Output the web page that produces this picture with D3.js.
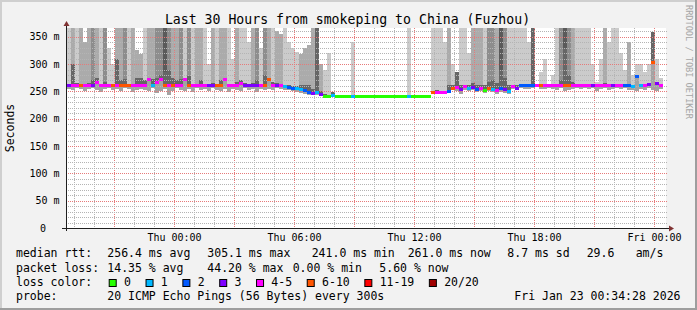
<!DOCTYPE html>
<html>
<head>
<meta charset="utf-8">
<script src="https://cdn.jsdelivr.net/npm/d3@7"></script>
<style>
  body { margin: 0; background: #fff; }
  svg { display: block; }
  text { font-family: "DejaVu Sans Mono", monospace; fill: #000; }
</style>
</head>
<body>
<svg id="chart"></svg>
<script>
// ---- data (one value per 12 minute bucket) ----
const lossLabels = ['0', '1', '2', '3', '4-5', '6-10', '11-19', '20/20'];
const lossColors = ['#26ff00', '#00b8ff', '#0059ff', '#7e00ff', '#ff00ff', '#ff5500', '#ff0000', '#a00000'];
const smokeGrays = ['#cbcbcb', '#ababab', '#8d8d8d', '#5a5a5a'];

const yTicks = [0, 50, 100, 150, 200, 250, 300, 350];
const xTickLabels = ['Thu 00:00', 'Thu 06:00', 'Thu 12:00', 'Thu 18:00', 'Fri 00:00'];

// median rtt (ms)
const median = [
  261, 261, 261, 261, 261, 261, 261, 268, 261, 261,
  261, 261, 261, 261, 261, 261, 261, 261, 261, 261,
  273, 261, 267, 273, 261, 261, 261, 261, 261, 273,
  261, 261, 261, 261, 261, 261, 261, 261, 261, 272,
  261, 261, 261, 266, 261, 261, 261, 261, 261, 261,
  273, 261, 261, 261, 260, 258, 257, 256, 254, 252,
  249, 247, 248, 245, 241, 241, 243, 241, 241, 241,
  241, 242, 241, 241, 241, 241, 241, 241, 241, 241,
  241, 241, 241, 241, 241, 242, 241, 241, 241, 241,
  241, 249, 249, 249, 249, 250, 256, 258, 255, 259,
  256, 258, 254, 257, 253, 257, 255, 252, 256, 254,
  251, 260, 256, 261, 261, 261, 261, 261, 261, 261,
  261, 261, 261, 261, 261, 261, 261, 261, 261, 261,
  261, 261, 261, 261, 261, 261, 261, 261, 261, 261,
  261, 259, 279, 261, 261, 263, 303, 266, 262, null
];

// loss class (index into lossLabels)
const loss = [
  3, 4, 4, 5, 4, 4, 3, 4, 4, 4,
  4, 5, 4, 5, 5, 5, 4, 4, 4, 4,
  4, 1, 4, 4, 5, 4, 5, 4, 4, 4,
  5, 4, 4, 4, 4, 3, 3, 5, 5, 4,
  4, 4, 4, 4, 3, 3, 3, 3, 4, 5,
  5, 4, 3, 4, 1, 2, 2, 1, 1, 2,
  2, 3, 1, 3, 0, 0, 1, 0, 0, 0,
  0, 1, 0, 0, 0, 0, 0, 0, 0, 0,
  0, 0, 0, 0, 0, 1, 0, 0, 0, 0,
  0, 5, 4, 4, 4, 2, 5, 4, 3, 4,
  1, 3, 2, 4, 0, 5, 1, 4, 2, 3,
  1, 4, 3, 2, 2, 2, 2, 4, 5, 4,
  4, 4, 4, 4, 5, 5, 4, 4, 4, 4,
  4, 3, 4, 4, 4, 4, 3, 4, 4, 2,
  2, 1, 2, 1, 4, 3, 5, 3, 4, 0
];

// highest ping of the bucket (ms, 366 = off the top)
const smokeHi = [
  366, 366, 366, 366, 340, 366, 366, 366, 366, 366,
  330, 300, 366, 366, 366, 366, 366, 325, 318, 366,
  366, 366, 366, 366, 366, 366, 366, 366, 366, 366,
  366, 366, 366, 366, 366, 300, 366, 366, 366, 366,
  366, 310, 366, 366, 366, 340, 366, 366, 330, 366,
  366, 366, 360, 355, 366, 340, 330, 322, 318, 330,
  335, 366, 366, 300, 290, 320, 249, 241, 241, 241,
  241, 340, 241, 241, 241, 241, 241, 241, 241, 241,
  241, 241, 241, 241, 241, 366, 241, 241, 241, 241,
  241, 366, 366, 366, 340, 366, 300, 285, 366, 366,
  320, 366, 366, 366, 366, 366, 366, 366, 366, 366,
  366, 366, 366, 366, 366, 340, 366, 262, 285, 310,
  261, 280, 366, 366, 366, 366, 366, 366, 366, 366,
  366, 300, 268, 310, 366, 340, 366, 366, 320, 290,
  340, 280, 300, 300, 285, 300, 358, 310, 275, null
];

// grey tone of the upper smoke (index into smokeGrays)
const smokeTone = [
  0, 1, 0, 1, 1, 1, 2, 1, 0, 2,
  0, 0, 1, 1, 2, 0, 1, 1, 1, 0,
  1, 1, 2, 2, 3, 2, 1, 1, 2, 0,
  2, 0, 1, 1, 0, 0, 1, 0, 1, 1,
  0, 0, 1, 0, 0, 0, 1, 2, 0, 2,
  1, 0, 1, 1, 0, 0, 0, 0, 1, 1,
  1, 1, 3, 1, 0, 0, 3, 0, 0, 0,
  0, 0, 0, 0, 0, 0, 0, 0, 0, 0,
  0, 0, 0, 0, 0, 0, 0, 0, 0, 0,
  0, 0, 0, 0, 0, 1, 0, 1, 0, 0,
  0, 1, 1, 1, 0, 2, 2, 1, 3, 2,
  0, 0, 0, 0, 0, 0, 3, 0, 0, 0,
  0, 0, 0, 2, 3, 2, 1, 0, 0, 0,
  0, 0, 0, 0, 1, 0, 0, 0, 0, 0,
  1, 0, 0, 0, 0, 0, 3, 0, 0, 0
];

// top of the dense (dark) part of the smoke (ms)
const smokeCore = [
  262, 300, 265, 262, 262, 265, 270, 275, 262, 268,
  262, 262, 310, 270, 272, 264, 262, 275, 275, 270,
  275, 272, 275, 280, 285, 290, 275, 270, 272, 275,
  278, 264, 262, 270, 264, 262, 266, 262, 270, 275,
  262, 262, 268, 270, 265, 262, 266, 270, 262, 280,
  275, 268, 265, 264, 262, 262, 260, 260, 262, 262,
  262, 255, 366, 250, 245, 241, 249, 241, 241, 241,
  241, 241, 241, 241, 241, 241, 241, 241, 241, 241,
  241, 241, 241, 241, 241, 241, 241, 241, 241, 241,
  241, 250, 252, 250, 251, 262, 262, 285, 262, 262,
  262, 265, 262, 262, 262, 268, 270, 265, 290, 275,
  262, 262, 262, 262, 262, 262, 366, 262, 262, 262,
  262, 262, 262, 270, 330, 280, 268, 262, 262, 262,
  262, 262, 262, 262, 266, 262, 262, 262, 262, 262,
  262, 262, 279, 262, 262, 262, 358, 262, 262, null
];

// lowest ping of the bucket (ms)
const smokeLo = [
  255, 252, 256, 254, 250, 255, 257, 253, 248, 254,
  256, 253, 255, 251, 256, 254, 249, 253, 255, 252,
  250, 256, 247, 251, 254, 244, 250, 256, 253, 251,
  255, 249, 256, 252, 254, 250, 256, 253, 251, 255,
  248, 255, 252, 250, 256, 253, 254, 249, 255, 252,
  255, 253, 256, 254, 253, 252, 250, 249, 247, 246,
  244, 243, 243, 241, 240, 240, 241, 241, 241, 241,
  241, 241, 241, 241, 241, 241, 241, 241, 241, 241,
  241, 241, 241, 241, 241, 241, 241, 241, 241, 241,
  241, 247, 246, 247, 246, 248, 252, 250, 246, 252,
  250, 253, 248, 251, 247, 250, 249, 245, 249, 247,
  246, 255, 253, 256, 255, 254, 256, 258, 254, 255,
  256, 255, 253, 256, 250, 252, 254, 256, 255, 257,
  255, 256, 250, 254, 256, 253, 255, 257, 254, 256,
  253, 252, 250, 254, 252, 256, 253, 250, 255, null
];

const rttStats = ['256.4 ms avg', '305.1 ms max', '241.0 ms min', '261.0 ms now', '8.7 ms sd', '29.6', 'am/s'];
const lossStats = ['14.35 % avg', '44.20 % max', '0.00 % min', '5.60 % now'];
const probeText = '20 ICMP Echo Pings (56 Bytes) every 300s';
const stampText = 'Fri Jan 23 00:34:28 2026';
const titleText = 'Last 30 Hours from smokeping to China (Fuzhou)';

// ---- layout ----
const [W, H] = [697, 310];
const plot = { left: 66, right: 666, top: 28, bottom: 228 };
const rttX = [107.3, 207.3, 311.7, 407.7, 507.3, 586.7, 635.7];
const lossX = [107.3, 207.3, 292.7, 379.3];
const rowY = [257.3, 271.6, 285.8, 300.2];
const minorCol = '#b4b4b4';
const majorCol = '#e67a7a';

const svg = d3.select('#chart').attr('width', W).attr('height', H);

// dotted grid patterns (1 px on, 1 px off)
const defs = svg.append('defs');
[['minor', minorCol], ['major', majorCol]].forEach(([name, col]) => {
  defs.append('pattern').attr('id', 'h-' + name)
    .attr('patternUnits', 'userSpaceOnUse').attr('width', 2).attr('height', 1)
    .append('rect').attr('width', 1).attr('height', 1).attr('fill', col);
  defs.append('pattern').attr('id', 'v-' + name)
    .attr('patternUnits', 'userSpaceOnUse').attr('width', 1).attr('height', 2)
    .append('rect').attr('width', 1).attr('height', 1).attr('fill', col);
});

// background + 3d border
svg.append('rect').attr('width', W).attr('height', H).attr('fill', '#f2f2f2');
svg.append('rect').attr('x', 0).attr('y', 0).attr('width', W).attr('height', 2).attr('fill', '#cfcfcf');
svg.append('rect').attr('x', 0).attr('y', 0).attr('width', 2).attr('height', H).attr('fill', '#cfcfcf');
svg.append('rect').attr('x', 0).attr('y', H - 2).attr('width', W).attr('height', 2).attr('fill', '#9e9e9e');
svg.append('rect').attr('x', W - 2).attr('y', 0).attr('width', 2).attr('height', H).attr('fill', '#9e9e9e');

// canvas
svg.append('rect')
  .attr('x', plot.left).attr('y', plot.top)
  .attr('width', plot.right - plot.left).attr('height', plot.bottom - plot.top)
  .attr('fill', '#fff');

// scales
const end = new Date(2026, 0, 23, 0, 34, 28);
const start = d3.timeHour.offset(end, -30);
const x = d3.scaleTime().domain([start, end]).range([plot.left, plot.right]);
const y = d3.scaleLinear().domain([0, 366]).range([plot.bottom, plot.top]);

const buckets = median.map((m, i) => ({
  t: d3.timeMinute.offset(start, 3 + 12 * i),
  med: m, loss: loss[i], hi: smokeHi[i], tone: smokeTone[i], core: smokeCore[i], lo: smokeLo[i]
})).filter(d => d.med !== null);
const bw = x(d3.timeMinute.offset(start, 12)) - x(start);

const gSmoke = svg.append('g').attr('shape-rendering', 'crispEdges');

// upper smoke
gSmoke.selectAll('rect.hi')
  .data(buckets.filter(d => d.hi > d.med))
  .join('rect').attr('class', 'hi')
  .attr('x', d => x(d.t)).attr('width', bw)
  .attr('y', d => y(d.hi)).attr('height', d => y(d.med) - y(d.hi))
  .attr('fill', d => smokeGrays[d.tone]);

// lower smoke
gSmoke.selectAll('rect.lo')
  .data(buckets.filter(d => d.lo < d.med))
  .join('rect').attr('class', 'lo')
  .attr('x', d => x(d.t)).attr('width', bw)
  .attr('y', d => y(d.med)).attr('height', d => y(d.lo) - y(d.med))
  .attr('fill', '#a3a3a3');

// dense part near median
gSmoke.selectAll('rect.core')
  .data(buckets.filter(d => d.core > d.med + 1))
  .join('rect').attr('class', 'core')
  .attr('x', d => x(d.t)).attr('width', bw)
  .attr('y', d => y(d.core)).attr('height', d => y(d.med) - y(d.core))
  .attr('fill', '#666666');

// grid, drawn over the smoke like rrdtool does
const gGrid = svg.append('g').attr('shape-rendering', 'crispEdges');

const hours = d3.timeHour.range(d3.timeHour.ceil(start), end);
gGrid.selectAll('rect.vx')
  .data(hours)
  .join('rect').attr('class', 'vx')
  .attr('x', d => Math.floor(x(d))).attr('width', 1)
  .attr('y', plot.top).attr('height', plot.bottom - plot.top)
  .attr('fill', d => d.getHours() % 3 === 0 ? 'url(#v-major)' : 'url(#v-minor)');

const yLines = d3.range(10, 366, 10);
gGrid.selectAll('rect.hy')
  .data(yLines)
  .join('rect').attr('class', 'hy')
  .attr('x', plot.left).attr('width', plot.right - plot.left + 2)
  .attr('y', d => Math.round(y(d))).attr('height', 1)
  .attr('fill', d => d % 50 === 0 ? 'url(#h-major)' : 'url(#h-minor)');

// median line coloured by loss
svg.append('g').attr('shape-rendering', 'crispEdges')
  .selectAll('rect')
  .data(buckets)
  .join('rect')
  .attr('x', d => x(d.t)).attr('width', bw)
  .attr('y', d => Math.round(y(d.med)) - 1).attr('height', 2.5)
  .attr('fill', d => lossColors[d.loss]);

// axes
const axisCol = '#1f1f1f';
const arrowCol = '#803333';
svg.append('line')
  .attr('x1', plot.left - 4).attr('x2', plot.right + 4)
  .attr('y1', plot.bottom + 0.5).attr('y2', plot.bottom + 0.5)
  .attr('stroke', axisCol);
svg.append('line')
  .attr('x1', plot.left + 0.5).attr('x2', plot.left + 0.5)
  .attr('y1', plot.bottom + 3).attr('y2', plot.top - 4)
  .attr('stroke', axisCol);
svg.append('path')
  .attr('d', `M${plot.left - 2.5},${plot.top - 2} L${plot.left + 3.5},${plot.top - 2} L${plot.left + 0.5},${plot.top - 7} Z`)
  .attr('fill', arrowCol);
svg.append('path')
  .attr('d', `M${plot.right + 3},${plot.bottom - 2.5} L${plot.right + 3},${plot.bottom + 3.5} L${plot.right + 8},${plot.bottom + 0.5} Z`)
  .attr('fill', arrowCol);

// y labels
svg.selectAll('text.ylab')
  .data(yTicks)
  .join('text').attr('class', 'ylab')
  .attr('x', d => d === 0 ? 46 : 59.5)
  .attr('y', d => y(d))
  .attr('dy', '0.36em')
  .attr('text-anchor', 'end')
  .style('font-size', '10px')
  .text(d => d === 0 ? '0' : d + ' m');

// x labels
const xTicks = d3.timeHour.every(6).range(d3.timeHour.ceil(start), end);
svg.selectAll('text.xlab')
  .data(xTicks)
  .join('text').attr('class', 'xlab')
  .attr('x', d => x(d))
  .attr('y', 240.6)
  .attr('text-anchor', 'middle')
  .style('font-size', '10px')
  .text((d, i) => xTickLabels[i]);

// title
svg.append('text')
  .attr('x', 347.5).attr('y', 24)
  .attr('text-anchor', 'middle')
  .style('font-size', '13.2px')
  .text(titleText);

// vertical axis title
svg.append('text')
  .attr('transform', 'translate(14,128) rotate(-90)')
  .attr('text-anchor', 'middle')
  .style('font-size', '11.5px')
  .text('Seconds');

// watermark
svg.append('text')
  .attr('transform', `translate(${W - 5},5) rotate(90)`)
  .attr('dominant-baseline', 'hanging')
  .style('font-size', '8.6px')
  .style('fill', '#a6a6a6')
  .text('RRDTOOL / TOBI OETIKER');

// legend
const legFont = '11.5px';
function legText(tx, ty, str, anchor) {
  return svg.append('text')
    .attr('x', tx).attr('y', ty)
    .attr('text-anchor', anchor || 'start')
    .attr('xml:space', 'preserve')
    .style('font-size', legFont)
    .text(str);
}

legText(16, rowY[0], 'median rtt:');
rttStats.forEach((s, i) => legText(rttX[i], rowY[0], s));

legText(16, rowY[1], 'packet loss:');
lossStats.forEach((s, i) => legText(lossX[i], rowY[1], s));

legText(16, rowY[2], 'loss color:');
let lx = 108.7;
lossLabels.forEach((lab, i) => {
  svg.append('rect')
    .attr('x', lx + 0.5).attr('y', rowY[2] - 6.3)
    .attr('width', 7).attr('height', 7)
    .attr('fill', lossColors[i])
    .attr('stroke', '#000').attr('stroke-width', 1);
  const t = legText(lx + 15.3, rowY[2], lab);
  lx = lx + 15.3 + t.node().getComputedTextLength() + 14.6;
});

legText(16, rowY[3], 'probe:');
legText(107.3, rowY[3], probeText);
legText(680.5, rowY[3], stampText, 'end');
</script>
</body>
</html>
